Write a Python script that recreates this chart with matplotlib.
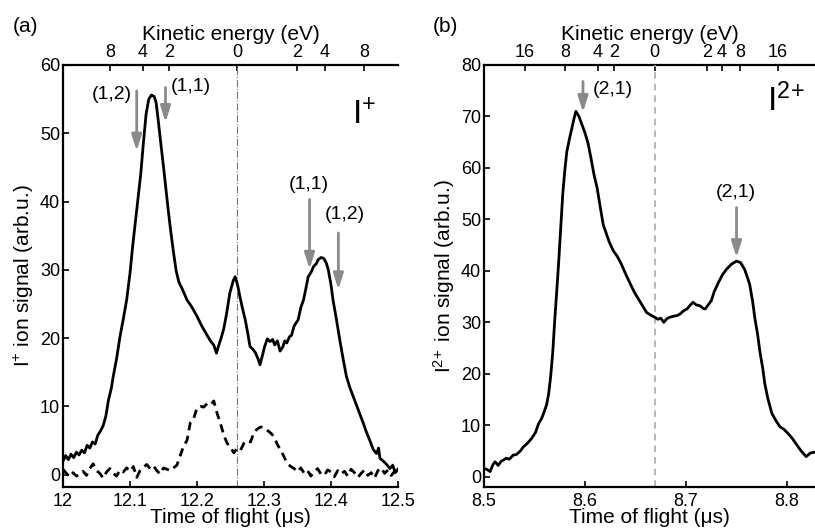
import matplotlib
matplotlib.use("Agg")
import matplotlib.pyplot as plt

plt.rcParams['font.family'] = ['Liberation Sans', 'DejaVu Sans']
plt.rcParams['mathtext.fontset'] = 'custom'
plt.rcParams['mathtext.rm'] = 'Liberation Sans'
plt.rcParams['mathtext.it'] = 'Liberation Sans'

# ---------------- panel (a): I+ time-of-flight ----------------
tof_a = [12.000, 12.004, 12.008, 12.012, 12.016, 12.020, 12.024, 12.028, 12.032, 12.036,
         12.040, 12.044, 12.048, 12.052, 12.056, 12.060, 12.064, 12.068, 12.072, 12.075,
         12.080, 12.085, 12.090, 12.095, 12.100, 12.104, 12.108, 12.112, 12.116, 12.120,
         12.124, 12.128, 12.132, 12.136, 12.139, 12.142, 12.146, 12.150, 12.154, 12.157,
         12.161, 12.165, 12.169, 12.173, 12.178, 12.185, 12.192, 12.200, 12.207, 12.214,
         12.220, 12.225, 12.229, 12.232, 12.236, 12.240, 12.244, 12.249, 12.254, 12.257,
         12.261, 12.264, 12.268, 12.272, 12.276, 12.279, 12.283, 12.287, 12.291, 12.294,
         12.298, 12.301, 12.305, 12.309, 12.313, 12.316, 12.320, 12.324, 12.328, 12.331,
         12.334, 12.338, 12.341, 12.345, 12.351, 12.355, 12.359, 12.363, 12.366, 12.370,
         12.374, 12.378, 12.381, 12.385, 12.389, 12.393, 12.396, 12.400, 12.403, 12.408,
         12.413, 12.418, 12.423, 12.428, 12.433, 12.438, 12.443, 12.448, 12.453, 12.458,
         12.463, 12.468, 12.471, 12.473, 12.478, 12.483, 12.488, 12.492, 12.496, 12.500]
signal_a = [2.0, 2.8, 2.2, 3.0, 2.5, 3.3, 2.9, 3.6, 3.2, 4.3,
            3.9, 4.8, 4.5, 5.8, 6.4, 7.2, 8.6, 11.0, 12.6, 14.4,
            17.0, 20.2, 22.8, 25.6, 29.5, 33.5, 37.0, 40.5, 44.0, 48.6,
            52.8, 55.0, 55.6, 55.4, 54.5, 52.0, 48.5, 45.1, 41.5, 38.8,
            35.5, 32.5, 29.8, 28.2, 27.2, 25.6, 24.6, 23.2, 21.8, 20.6,
            19.6, 19.0, 17.8, 18.8, 20.0, 21.4, 23.5, 26.6, 28.4, 29.0,
            27.6, 26.1, 24.3, 22.7, 20.6, 18.8, 18.4, 17.9, 17.0, 16.1,
            17.6, 18.8, 19.9, 19.5, 19.8, 19.0, 19.6, 18.1, 18.7, 19.6,
            19.3, 20.2, 20.4, 21.8, 22.7, 24.5, 25.6, 27.5, 29.0, 29.6,
            30.5, 30.9, 31.5, 31.8, 31.7, 31.0, 30.0, 27.8, 25.6, 22.8,
            19.8, 17.0, 14.4, 12.8, 11.5, 10.2, 8.9, 7.6, 6.2, 5.0,
            3.7, 3.1, 3.9, 2.4, 2.0, 1.5, 0.9, 1.4, 0.3, 0.8]

tof_a_dash = [12.000, 12.005, 12.010, 12.015, 12.020, 12.025, 12.030, 12.035, 12.040, 12.045,
              12.050, 12.055, 12.060, 12.065, 12.070, 12.075, 12.080, 12.085, 12.090, 12.095,
              12.100, 12.105, 12.110, 12.115, 12.120, 12.125, 12.130, 12.135, 12.140, 12.145,
              12.150, 12.155, 12.160, 12.165, 12.170, 12.175, 12.180, 12.185, 12.190, 12.195,
              12.200, 12.205, 12.210, 12.215, 12.220, 12.225, 12.230, 12.235, 12.240, 12.245,
              12.250, 12.255, 12.260, 12.265, 12.270, 12.275, 12.280, 12.285, 12.290, 12.295,
              12.300, 12.305, 12.310, 12.315, 12.320, 12.325, 12.330, 12.335, 12.340, 12.345,
              12.350, 12.355, 12.360, 12.365, 12.370, 12.375, 12.380, 12.385, 12.390, 12.395,
              12.400, 12.405, 12.410, 12.415, 12.420, 12.425, 12.430, 12.435, 12.440, 12.445,
              12.450, 12.455, 12.460, 12.465, 12.470, 12.475, 12.480, 12.485, 12.490, 12.495,
              12.500]
signal_a_dash = [0.8, 0.2, -0.3, 0.3, -0.2, 0.0, 0.5, -0.1, 0.9, 1.6,
                 0.6, 0.2, -0.5, 0.4, 0.9, 0.2, -0.2, 0.7, 0.4, 1.0,
                 0.5, 1.2, -0.4, 0.6, 1.1, 1.5, 0.9, 1.3, 0.6, 0.1,
                 1.0, 0.8, 0.6, 1.0, 1.4, 2.8, 4.2, 5.0, 7.6, 8.2,
                 9.8, 10.0, 9.9, 10.4, 10.2, 10.8, 9.0, 7.5, 5.8, 4.6,
                 4.0, 3.2, 3.9, 3.6, 4.6, 5.0, 4.8, 6.2, 6.7, 7.0,
                 6.9, 6.5, 6.1, 5.6, 4.4, 3.6, 2.6, 1.6, 1.2, 0.9,
                 0.4, 1.0, 0.2, 0.6, -0.2, 0.5, 0.9, 0.1, -0.1, 0.7,
                 0.4, -0.3, 0.6, 0.1, 0.5, -0.2, 0.8, 0.3, -0.4, 0.2,
                 0.7, -0.1, 0.3, -0.5, 0.6, 1.0, 0.2, 0.7, -0.1, 0.5,
                 0.6]

# top axis: kinetic energy ticks (positions in time of flight)
ke_pos_a = [12.070, 12.119, 12.158, 12.260, 12.349, 12.391, 12.449]
ke_lbl_a = ['8', '4', '2', '0', '2', '4', '8']
t0_a = 12.26

# ---------------- panel (b): I2+ time-of-flight ----------------
tof_b = [8.500, 8.503, 8.506, 8.509, 8.511, 8.514, 8.517, 8.519, 8.522, 8.525,
         8.529, 8.532, 8.536, 8.539, 8.543, 8.547, 8.551, 8.554, 8.557, 8.559,
         8.562, 8.564, 8.566, 8.568, 8.570, 8.572, 8.574, 8.576, 8.578, 8.580,
         8.582, 8.585, 8.587, 8.589, 8.591, 8.594, 8.597, 8.600, 8.603, 8.606,
         8.609, 8.612, 8.615, 8.618, 8.621, 8.624, 8.628, 8.632, 8.636, 8.640,
         8.645, 8.649, 8.653, 8.657, 8.661, 8.665, 8.669, 8.672, 8.675, 8.678,
         8.681, 8.684, 8.688, 8.691, 8.694, 8.698, 8.701, 8.704, 8.707, 8.710,
         8.714, 8.717, 8.719, 8.722, 8.725, 8.728, 8.732, 8.736, 8.740, 8.745,
         8.750, 8.754, 8.758, 8.761, 8.763, 8.766, 8.768, 8.771, 8.773, 8.776,
         8.778, 8.781, 8.785, 8.789, 8.793, 8.797, 8.801, 8.805, 8.810, 8.814,
         8.819, 8.823, 8.828]
signal_b = [1.6, 1.4, 1.0, 2.4, 2.9, 2.2, 3.0, 3.2, 3.6, 3.4,
            4.2, 4.3, 5.0, 5.8, 6.5, 7.4, 8.6, 10.3, 11.3, 12.3,
            14.0, 16.1, 19.5, 24.0, 30.3, 36.0, 41.9, 48.5, 55.0, 59.5,
            63.2, 66.0, 67.7, 69.5, 71.0, 70.0, 68.4, 66.8, 64.8, 61.8,
            58.6, 56.1, 52.5, 49.0, 47.3, 45.6, 43.9, 42.8, 41.3, 39.5,
            37.4, 35.8, 34.5, 33.2, 31.9, 31.4, 31.0, 30.6, 30.8, 30.0,
            30.7, 31.0, 31.2, 31.3, 31.6, 32.3, 32.6, 33.3, 33.9, 33.4,
            33.2, 32.7, 32.6, 33.4, 34.2, 36.0, 37.7, 39.2, 40.3, 41.3,
            41.9, 41.6, 40.3, 38.6, 37.4, 34.0, 31.0, 27.5, 24.5, 21.0,
            18.1, 15.2, 12.3, 10.9, 9.7, 9.2, 8.4, 7.5, 6.1, 5.0,
            3.9, 4.6, 4.8]

ke_pos_b = [8.5406, 8.580, 8.6129, 8.6287, 8.669, 8.7208, 8.7356, 8.7535, 8.7911]
ke_lbl_b = ['16', '8', '4', '2', '0', '2', '4', '8', '16']
t0_b = 8.669

# arrows: (label, x, arrow top, arrow tip, label x, label y, ha)
arrows_a = [('(1,2)', 12.110, 56.2, 47.4, 12.1025, 55.7, 'right'),
            ('(1,1)', 12.153, 56.7, 51.6, 12.161, 56.9, 'left'),
            ('(1,1)', 12.368, 40.3, 30.1, 12.367, 42.5, 'center'),
            ('(1,2)', 12.411, 35.4, 27.1, 12.421, 38.1, 'center')]
arrows_b = [('(2,1)', 8.598, 76.8, 70.8, 8.6076, 75.2, 'left'),
            ('(2,1)', 8.750, 52.3, 42.6, 8.7495, 55.2, 'center')]

fig = plt.figure(figsize=(8.15, 5.32), dpi=100)
ax_a = fig.add_axes([63 / 815, 45 / 532, 335 / 815, 422 / 532])
ax_b = fig.add_axes([484 / 815, 45 / 532, 331 / 815, 422 / 532])

arrow_color = '#8a8a8a'


def style_axes(ax, ke_pos, ke_lbl):
    for side in ['right', 'top']:
        ax.spines[side].set_visible(False)
    for side in ['left', 'bottom']:
        ax.spines[side].set_linewidth(1.6)
    ax.tick_params(direction='in', length=4, width=1.2, labelsize=13, pad=4)
    ax.tick_params(axis='y', pad=2)
    sec = ax.secondary_xaxis('top')
    sec.set_xticks(ke_pos, labels=ke_lbl)
    sec.tick_params(direction='in', length=4, width=1.2, labelsize=13, pad=3)
    sec.spines['top'].set_linewidth(1.6)
    sec.set_xlabel('Kinetic energy (eV)', fontsize=15, labelpad=3)
    ax.set_xlabel('Time of flight (\u03bcs)', fontsize=15, labelpad=-1)


def draw_arrows(ax, arrows):
    for lbl, x, top, tip, lx, ly, ha in arrows:
        ax.annotate('', xy=(x, tip), xytext=(x, top),
                    arrowprops=dict(arrowstyle='-|>,head_width=0.25,head_length=0.8',
                                    color=arrow_color, lw=2, mutation_scale=12,
                                    shrinkA=0, shrinkB=0))
        ax.text(lx, ly, lbl, fontsize=14, ha=ha, va='center')


# panel (a)
ax_a.axvline(t0_a, color='#777777', lw=0.8, ls='-.')
ax_a.plot(tof_a, signal_a, color='black', lw=2)
ax_a.plot(tof_a_dash, signal_a_dash, color='black', lw=2, ls=(0, (3, 2)))
ax_a.set_xlim(12.0, 12.5)
ax_a.set_ylim(-1.8, 60)
ax_a.set_xticks([12.0, 12.1, 12.2, 12.3, 12.4, 12.5])
ax_a.set_xticklabels(['12', '12.1', '12.2', '12.3', '12.4', '12.5'])
ax_a.set_yticks([0, 10, 20, 30, 40, 50, 60])
style_axes(ax_a, ke_pos_a, ke_lbl_a)
ax_a.set_ylabel('I$^{+}$ ion signal (arb.u.)', fontsize=15, labelpad=3)
draw_arrows(ax_a, arrows_a)
ax_a.text(12.431, 51.3, 'I$^{+}$', fontsize=24, ha='left', va='baseline')

# panel (b)
ax_b.axvline(t0_b, color='#aaaaaa', lw=1.2, ls=(0, (4, 3)))
ax_b.plot(tof_b, signal_b, color='black', lw=2)
ax_b.set_xlim(8.5, 8.8277)
ax_b.set_ylim(-2, 80)
ax_b.set_xticks([8.5, 8.6, 8.7, 8.8])
ax_b.set_yticks([0, 10, 20, 30, 40, 50, 60, 70, 80])
style_axes(ax_b, ke_pos_b, ke_lbl_b)
ax_b.set_ylabel('I$^{2\\!+}$ ion signal (arb.u.)', fontsize=15, labelpad=3)
draw_arrows(ax_b, arrows_b)
ax_b.text(8.780, 71.0, 'I$^{2\\!+}$', fontsize=24, ha='left', va='baseline')

fig.text(13 / 815, 1 - 26 / 532, '(a)', fontsize=15, ha='left', va='center')
fig.text(433 / 815, 1 - 26 / 532, '(b)', fontsize=15, ha='left', va='center')

fig.savefig('out.png', dpi=100)
